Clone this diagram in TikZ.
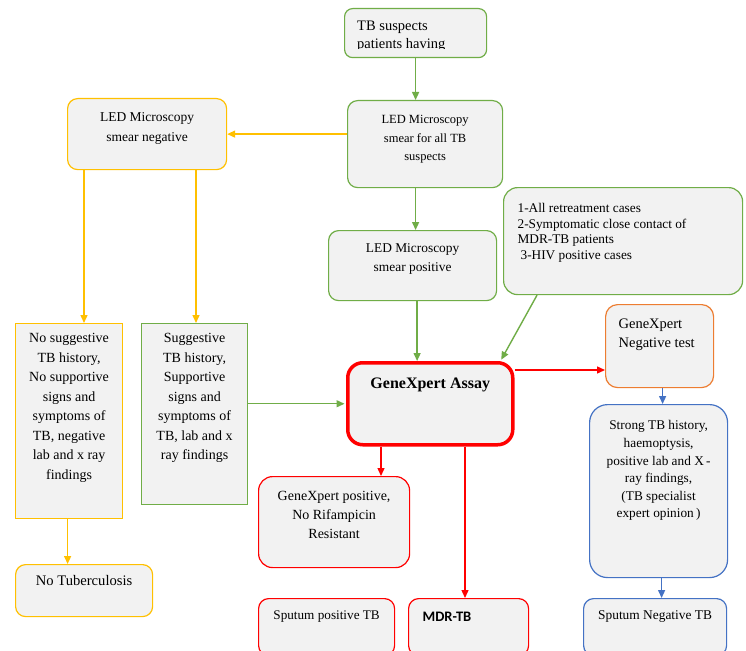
\documentclass[tikz,border=0pt]{standalone}
\usepackage{fontspec}
\setmainfont{Liberation Serif}
\newfontfamily\calibri{Carlito}
\usetikzlibrary{arrows.meta}
\definecolor{cgreen}{HTML}{70AD47}
\definecolor{cyellow}{HTML}{FFC000}
\definecolor{cred}{HTML}{FF0000}
\definecolor{corange}{HTML}{ED7D31}
\definecolor{cblue}{HTML}{4472C4}
\definecolor{cfill}{HTML}{F2F2F2}
\newcommand\bxt[4]{\parbox[c][#2pt][t]{#1pt}{\vspace*{#3pt}#4\par}}
\newcommand\fs[2]{\fontsize{#1pt}{#2pt}\selectfont}
\tikzset{
  box/.style={draw, fill=cfill, rounded corners=10pt, inner sep=0pt, line width=1.2pt, anchor=north west},
  sqbox/.style={box, rounded corners=0pt},
  conn/.style={line width=1.4pt, -{Triangle[length=8pt,width=7pt]}},
}
\begin{document}
\begin{tikzpicture}[x=1pt,y=-1pt]
\useasboundingbox (0,0) rectangle (746,650);
\fill[white] (0,0) rectangle (746,650);

% TB suspects (text clipped at bottom)
\node[box, draw=cgreen, rounded corners=8pt, minimum width=142pt, minimum height=49pt] (tb) at (344,8) {};
\begin{scope}
  \clip (344,8) rectangle (486,48.5);
  \node[anchor=north west, inner sep=0pt] (tbt) at (357,21)
    {\parbox[t]{125pt}{\fs{14.5}{17.5}\raggedright TB suspects\\patients having}};
\end{scope}

\node[box, draw=cgreen] (ledall) at (347,100)
  {\bxt{155}{87}{15}{\fs{12.5}{18.5}\centering LED Microscopy\\smear for all TB\\suspects}};

\node[box, draw=cyellow] (ledneg) at (67,98)
  {\bxt{159}{71}{14}{\fs{13.5}{20}\centering LED Microscopy\\smear negative}};

\node[box, draw=cgreen] (ledpos) at (328,230)
  {\bxt{168}{70}{13}{\fs{13.4}{19}\centering LED Microscopy\\smear positive}};

\node[box, draw=cgreen, rounded corners=14pt] (crit) at (503,187)
  {\bxt{239}{107}{16}{\fs{13.3}{15.5}\raggedright\leftskip=14pt 1-All retreatment cases\\2-Symptomatic close contact of\\MDR-TB patients\\\hspace*{3pt}3-HIV positive cases}};

\node[sqbox, draw=cyellow] (nosug) at (15,323)
  {\bxt{107}{195}{10}{\fs{14}{19.5}\centering No suggestive\\TB history,\\No supportive\\signs and\\symptoms of\\TB, negative\\lab and x ray\\findings}};

\node[sqbox, draw=cgreen] (sug) at (141,323)
  {\bxt{106}{181}{10}{\fs{14}{19.5}\centering Suggestive\\TB history,\\Supportive\\signs and\\symptoms of\\TB, lab and x\\ray findings}};

\node[box, draw=cred, line width=3.5pt, rounded corners=15pt] (gx) at (346,361)
  {\bxt{165}{82}{15}{\fs{16}{19}\centering\bfseries GeneXpert Assay}};

\node[box, draw=corange, rounded corners=12pt] (gxneg) at (605,304)
  {\bxt{108}{83}{14}{\fs{14.5}{19.5}\raggedright\leftskip=13pt GeneXpert\\Negative test}};

\node[box, draw=cblue, rounded corners=18pt] (strong) at (589,404)
  {\bxt{138}{173}{16}{\fs{13.3}{17.6}\centering Strong TB history,\\haemoptysis,\\positive lab and X\,-\\ray findings,\\(TB specialist\\expert opinion\,)}};

\node[box, draw=cred, rounded corners=14pt] (gxpos) at (258,476)
  {\bxt{151}{91}{15}{\fs{14}{19}\centering GeneXpert positive,\\No Rifampicin\\Resistant}};

\node[box, draw=cyellow] (notub) at (15,564)
  {\bxt{137}{52}{11}{\fs{14.6}{18}\centering No Tuberculosis}};

\node[box, draw=cred] (sppos) at (258,598)
  {\bxt{136}{57}{12}{\fs{13.2}{18}\centering Sputum positive TB}};

\node[box, draw=cred] (mdr) at (408,598)
  {\bxt{120}{57}{13}{\fs{14.5}{18}\raggedright\leftskip=14pt\calibri\bfseries MDR-TB}};

\node[box, draw=cblue] (spneg) at (583,598)
  {\bxt{143}{57}{12}{\fs{13.4}{18}\centering Sputum Negative TB}};

% connectors
\draw[conn, cgreen] (tb.south) -- (tb.south |- ledall.north);
\draw[conn, cyellow] (ledall.west |- ledneg.east) -- (ledneg.east);
\draw[conn, cgreen] (ledall.south -| tb.south) -- (ledpos.north -| tb.south);
\draw[conn, cyellow] ([xshift=17pt]ledneg.south west) coordinate (yl1) -- (yl1 |- nosug.north);
\draw[conn, cyellow] ([xshift=129pt]ledneg.south west) coordinate (yl2) -- (yl2 |- sug.north);
\draw[conn, cgreen] ([xshift=4.5pt]ledpos.south) coordinate (gl1) -- (gl1 |- gx.north);
\draw[conn, cgreen, shorten >=1.5pt] ([xshift=34pt]crit.south west) -- ([xshift=-14pt]gx.north east);
\draw[conn, cgreen, shorten >=1.5pt] (sug.east |- gx.west) -- (gx.west);
\draw[conn, cred] ([yshift=-9pt]gx.north east) coordinate (rl) -- (rl -| gxneg.west);
\draw[conn, cred] ([xshift=35pt]gx.south west) coordinate (rl1) -- (rl1 |- gxpos.north);
\draw[conn, cred] ([xshift=119pt]gx.south west) coordinate (rl2) -- (rl2 |- mdr.north);
\draw[conn, cblue] ([xshift=3pt]gxneg.south) coordinate (bl1) -- (bl1 |- strong.north);
\draw[conn, cblue] ([xshift=3pt]strong.south) coordinate (bl2) -- (bl2 |- spneg.north);
\draw[conn, cyellow] ([xshift=-1.5pt]nosug.south) coordinate (yl3) -- (yl3 |- notub.north);
\end{tikzpicture}
\end{document}
